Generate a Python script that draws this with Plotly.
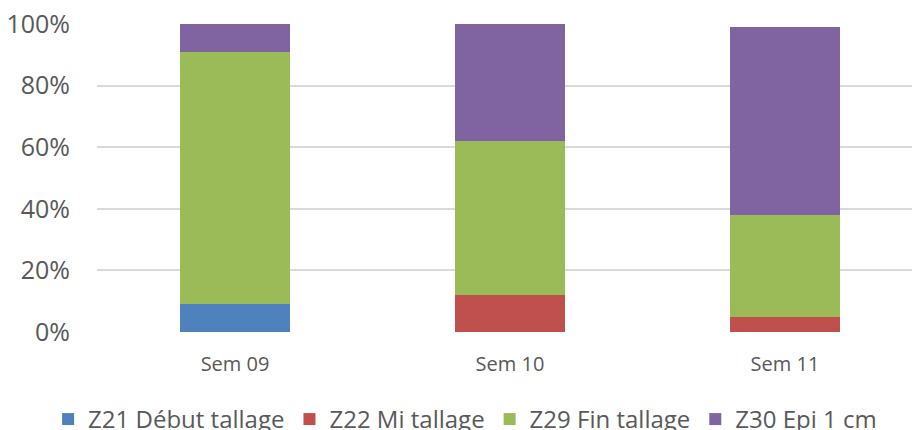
import plotly.graph_objects as go

categories = ["Sem 09", "Sem 10", "Sem 11"]
series_names = ["Z21 Début tallage", "Z22 Mi tallage", "Z29 Fin tallage", "Z30 Epi 1 cm"]
z21 = [0.09, 0.0, 0.0]
z22 = [0.0, 0.12, 0.05]
z29 = [0.82, 0.50, 0.33]
z30 = [0.09, 0.38, 0.61]
colors = ["#4F81BD", "#C0504D", "#9BBB59", "#8064A2"]
y_ticks = [0, 0.2, 0.4, 0.6, 0.8, 1.0]
y_ticklabels = ["0%", "20%", "40%", "60%", "80%", "100%"]

FONT = "Open Sans, Noto Sans, sans-serif"
TXT = "#595959"

fig = go.Figure()
for name, vals, col in zip(series_names, [z21, z22, z29, z30], colors):
    fig.add_trace(go.Bar(
        x=categories, y=vals, name=name, width=0.4,
        marker=dict(color=col, line=dict(width=0)),
    ))

fig.update_layout(
    barmode="stack",
    width=912, height=430,
    margin=dict(l=97, r=0, t=24, b=98, autoexpand=False),
    paper_bgcolor="white", plot_bgcolor="white",
    font=dict(family=FONT, color=TXT),
    showlegend=True,
    legend=dict(
        orientation="h", xanchor="left", x=-0.06,
        yanchor="middle", y=-0.284,
        font=dict(size=24, family=FONT, color=TXT),
        traceorder="normal", itemwidth=30, tracegroupgap=0,
    ),
)
fig.update_xaxes(
    range=[-0.502, 2.462], showgrid=False, zeroline=False, showline=False,
    tickfont=dict(size=20, family=FONT, color=TXT), ticks="", ticklabelstandoff=18,
)
fig.update_yaxes(
    range=[0, 1], tickvals=y_ticks, ticktext=y_ticklabels,
    showgrid=True, gridcolor="#D9D9D9", gridwidth=1.5, zeroline=False, showline=False,
    tickfont=dict(size=25, family=FONT, color=TXT), ticks="", ticklabelstandoff=26,
)
fig.write_html(
    "out.html",
    config={"displayModeBar": False},
    post_script="document.body.style.margin='0';document.body.style.overflow='hidden';",
)
